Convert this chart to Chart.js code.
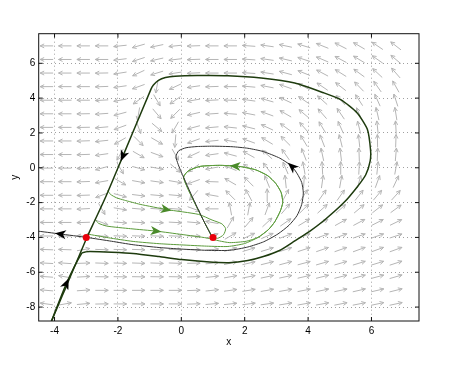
<!DOCTYPE html>
<html>
<head>
<meta charset="utf-8">
<script src="https://cdn.jsdelivr.net/npm/chart.js@4/dist/chart.umd.min.js"></script>
<style>
  body { margin: 0; background: #fff; }
</style>
</head>
<body>
<canvas id="chart" width="461" height="370"></canvas>
<script>
// axis ticks
var xTicks = [-4, -2, 0, 2, 4, 6];
var yTicks = [-8, -6, -4, -2, 0, 2, 4, 6];

// direction field grid (degrees, 0 = pointing right, 90 = up)
var fieldX = [-4.25, -3.67, -3.09, -2.51, -1.93, -1.35, -0.77, -0.19, 0.39, 0.97,
              1.55, 2.13, 2.71, 3.29, 3.87, 4.45, 5.03, 5.61, 6.19, 6.77];
var fieldY = [7.0, 6.22, 5.44, 4.66, 3.88, 3.1, 2.32, 1.54, 0.76, -0.02,
              -0.8, -1.58, -2.36, -3.14, -3.92, -4.7, -5.48, -6.26, -7.04, -7.82];
var fieldAngle = [
  [180,180,180,180,186,196,192,186,182,180, 180,176,172,168,163,158,153,150,146,142],
  [180,180,180,180,187,198,193,187,182,180, 180,176,172,167,162,157,152,149,145,140],
  [180,180,180,181,189,205,197,189,183,180, 180,176,171,165,158,152,148,144,137,131],
  [180,180,180,182,188,200,260,205,188,182, 180,175,169,161,152,146,142,134,125,119],
  [180,180,180,183,190,215,300,215,190,183, 178,172,164,155,146,138,133,123,114,108],
  [180,180,181,184,195,260,310,225,193,184, 176,169,160,150,140,131,124,113,103,99],
  [180,180,181,185,200,290,320,240,195,185, 174,166,155,144,131,121,114,104,96,93],
  [180,180,182,186,210,315,330,265,200,186, 170,160,149,135,121,111,104,96,91,88],
  [180,180,182,188,240,330,340,300,205,188, 165,151,139,125,111,102,97,92,88,85],
  [180,180,183,195,300,345,350,320,215,190, 158,144,128,113,100,93,90,87,84,80],
  [180,180,182,190,330,350,352,350,200,178, 150,135,112,96,86,82,80,75,70,65],
  [180,180,182,200,345,353,355,355,230,170, 135,118,90,62,58,55,55,52,50,48],
  [180,180,183,300,350,355,356,356,340,180, 100,80,70,50,45,42,42,40,38,36],
  [180,180,182,340,355,357,357,357,355,170, 60,50,43,35,31,30,29,28,27,26],
  [180,180,178,355,358,358,358,358,359,20, 30,25,24,21,20,20,20,19,19,18],
  [178,178,10,358,358,358,358,358,0,5, 16,17,17,18,18,19,19,20,20,20],
  [177,176,2,358,358,358,358,358,1,6, 12,13,14,15,15,16,16,17,17,18],
  [176,170,3,359,359,359,359,359,2,6, 10,11,12,12,13,14,14,15,15,16],
  [175,60,4,0,0,0,0,0,2,6, 8,9,10,10,11,12,12,13,13,14],
  [172,10,5,1,0,0,0,0,2,5, 6,7,8,9,10,10,11,11,12,12]
];

// trajectories
var bigOrbit = [[-4.14,-9.0],[-3.62,-6.62],[-3.14,-4.9],[-3.02,-4.83],[-2.88,-4.81],[-2.2,-4.85],
  [-1.52,-4.92],[-0.7,-5.1],[0.01,-5.27],[0.8,-5.4],[1.5,-5.45],[2.1,-5.33],[2.59,-5.1],
  [3.1,-4.75],[3.58,-4.2],[4.05,-3.65],[4.52,-3.0],[5.13,-2.0],[5.55,-1.1],[5.82,-0.4],
  [5.96,0.4],[5.97,1.05],[5.87,2.21],[5.55,3.15],[5.03,3.91],[4.5,4.3],[3.58,4.87],
  [2.52,5.16],[1.47,5.29],[0.5,5.3],[-0.2,5.26],[-0.5,5.18],[-0.72,5.02],[-0.88,4.75],
  [-0.96,4.5],[-1.85,0.64],[-2.38,-1.65],[-2.98,-4.0]];
var stableLower = [[-4.14,-9.0],[-2.98,-4.0]];
var unstableLeft = [[-2.98,-4.0],[-3.83,-3.8],[-4.6,-3.62]];
var unstableRight = [[-2.98,-4.0],[-2.2,-4.22],[-1.52,-4.42],[-0.7,-4.58],[0.01,-4.67],[0.8,-4.74],
  [1.53,-4.74],[2.1,-4.55],[2.6,-4.25],[3.05,-3.8],[3.4,-3.3],[3.65,-2.75],[3.8,-2.1],
  [3.85,-1.45],[3.8,-0.85],[3.66,-0.35],[3.48,0.1],[3.11,0.55],[2.59,0.93],[2.1,1.12],
  [1.6,1.21],[1.0,1.24],[0.5,1.22],[0.15,1.15],[-0.08,0.98],[-0.17,0.65],[-0.1,0.2],
  [0.0,-0.25],[0.38,-1.8],[0.72,-3.1],[0.98,-4.0]];
var greenA = [[-2.32,-1.3],[-2.24,-1.52],[-2.05,-1.72],[-1.8,-1.86],[-1.3,-2.1],[-0.46,-2.4],
  [0.55,-2.68],[0.97,-3.0],[1.28,-3.22],[1.4,-3.5],[1.33,-3.85],[1.15,-4.05],[0.98,-4.0]];
var greenB = [[-2.72,-2.95],[-2.62,-3.18],[-2.35,-3.35],[-1.6,-3.5],[-0.78,-3.64],[0.01,-3.83],
  [0.8,-4.03],[1.2,-4.2],[1.53,-4.3],[2.05,-4.22],[2.42,-4.0],[2.75,-3.55],[2.95,-3.1],
  [3.12,-2.5],[3.2,-2.0],[3.15,-1.42],[2.98,-0.9],[2.73,-0.46],[2.35,-0.12],[1.9,0.06],
  [1.68,0.1],[1.2,0.14],[0.6,0.08],[0.22,-0.18],[0.07,-0.55],[0.35,-1.75],[0.72,-3.1],[0.98,-4.0]];
var greenC = [[-2.98,-3.8],[-2.3,-4.02],[-1.52,-4.23],[-0.7,-4.36],[0.01,-4.43],[0.8,-4.5],
  [1.47,-4.52],[2.0,-4.35],[2.42,-4.0],[2.75,-3.55],[2.95,-3.1],[3.12,-2.5],[3.2,-2.0],
  [3.15,-1.42],[2.98,-0.9],[2.73,-0.46],[2.35,-0.12],[1.9,0.06],[1.68,0.1],[1.2,0.14],
  [0.6,0.08],[0.22,-0.18],[0.07,-0.55],[0.35,-1.75],[0.72,-3.1],[0.98,-4.0]];
var equilibria = [[-3, -4], [1, -4]];

var darkGreen = '#1e3b0e';
var green = '#5b9b3b';

function pts(arr) {
  return arr.map(function (p) { return {x: p[0], y: p[1]}; });
}
function curve(arr, color, width) {
  return {data: pts(arr), showLine: true, pointRadius: 0, borderColor: color,
          borderWidth: width, tension: 0.2, fill: false, clip: 0};
}

var datasets = [
  {data: pts(equilibria), showLine: false, pointRadius: 3.5, backgroundColor: '#e8000b',
   borderWidth: 0, pointHoverRadius: 3.5},
  curve(bigOrbit, darkGreen, 1.5),
  curve(stableLower, darkGreen, 1.5),
  curve(unstableLeft, '#333333', 1),
  curve(unstableRight, '#333333', 1),
  curve(greenA, green, 1),
  curve(greenB, green, 1),
  curve(greenC, green, 1)
];

// [dataset, point index, color]
var arrowMarks = [[1, 1, '#000'], [1, 35, '#000'], [3, 1, '#000'], [4, 16, '#000'],
                  [5, 5, '#4a8a2a'], [6, 4, '#4a8a2a'], [7, 18, '#4a8a2a']];

var phasePlugin = {
  id: 'phase',
  beforeDatasetsDraw: function (chart) {
    var ctx = chart.ctx, xs = chart.scales.x, ys = chart.scales.y, a = chart.chartArea;
    ctx.save();
    ctx.beginPath();
    ctx.rect(a.left, a.top, a.right - a.left, a.bottom - a.top);
    ctx.clip();
    ctx.strokeStyle = '#b5b5b5';
    ctx.lineWidth = 1;
    var L = 13, h = 4.5, w = 0.45;
    for (var r = 0; r < fieldY.length; r++) {
      for (var c = 0; c < fieldX.length; c++) {
        var px = xs.getPixelForValue(fieldX[c]);
        var py = ys.getPixelForValue(fieldY[r]);
        var t = fieldAngle[r][c] * Math.PI / 180;
        var dx = Math.cos(t), dy = -Math.sin(t);
        var x2 = px + dx * L / 2, y2 = py + dy * L / 2;
        var back = Math.atan2(-dy, -dx);
        ctx.beginPath();
        ctx.moveTo(px - dx * L / 2, py - dy * L / 2);
        ctx.lineTo(x2, y2);
        ctx.moveTo(x2 + h * Math.cos(back + w), y2 + h * Math.sin(back + w));
        ctx.lineTo(x2, y2);
        ctx.lineTo(x2 + h * Math.cos(back - w), y2 + h * Math.sin(back - w));
        ctx.stroke();
      }
    }
    ctx.restore();
  },
  afterDatasetsDraw: function (chart) {
    var ctx = chart.ctx;
    arrowMarks.forEach(function (m) {
      var d = chart.getDatasetMeta(m[0]).data;
      var p = d[m[1]], a = d[m[1] - 1], b = d[m[1] + 1];
      var ang = Math.atan2(b.y - a.y, b.x - a.x);
      ctx.save();
      ctx.translate(p.x, p.y);
      ctx.rotate(ang);
      ctx.beginPath();
      ctx.moveTo(5, 0);
      ctx.lineTo(-6, -4.5);
      ctx.lineTo(-3, 0);
      ctx.lineTo(-6, 4.5);
      ctx.closePath();
      ctx.fillStyle = m[2];
      ctx.fill();
      ctx.restore();
    });
  },
  afterDraw: function (chart) {
    var ctx = chart.ctx, a = chart.chartArea, xs = chart.scales.x, ys = chart.scales.y;
    ctx.save();
    ctx.strokeStyle = '#111';
    ctx.lineWidth = 1;
    ctx.strokeRect(a.left, a.top, a.right - a.left, a.bottom - a.top);
    ctx.beginPath();
    xTicks.forEach(function (v) {
      var px = xs.getPixelForValue(v);
      ctx.moveTo(px, a.bottom); ctx.lineTo(px, a.bottom - 4);
      ctx.moveTo(px, a.top); ctx.lineTo(px, a.top + 4);
    });
    yTicks.forEach(function (v) {
      var py = ys.getPixelForValue(v);
      ctx.moveTo(a.left, py); ctx.lineTo(a.left + 4, py);
      ctx.moveTo(a.right, py); ctx.lineTo(a.right - 4, py);
    });
    ctx.stroke();
    ctx.restore();
  }
};

var font = {family: 'Liberation Sans', size: 10};

new Chart(document.getElementById('chart'), {
  type: 'scatter',
  data: {datasets: datasets},
  plugins: [phasePlugin],
  options: {
    responsive: false,
    animation: false,
    events: [],
    layout: {padding: {top: 33.7, right: 42, bottom: 0, left: 0}},
    plugins: {legend: {display: false}, tooltip: {enabled: false}},
    scales: {
      x: {
        type: 'linear', min: -4.5, max: 7.5,
        afterBuildTicks: function (s) { s.ticks = xTicks.map(function (v) { return {value: v}; }); },
        afterFit: function (s) { s.height = 49; },
        grid: {color: '#a0a0a0', lineWidth: 1, drawTicks: false},
        border: {display: false, dash: [1, 3]},
        ticks: {padding: 4, color: '#000', font: font, maxRotation: 0, autoSkip: false},
        title: {display: true, text: 'x', color: '#000', font: font, padding: {top: 0, bottom: 22}}
      },
      y: {
        type: 'linear', min: -8.8, max: 7.7,
        afterBuildTicks: function (s) { s.ticks = yTicks.map(function (v) { return {value: v}; }); },
        afterFit: function (s) { s.width = 38.7; },
        grid: {color: '#a0a0a0', lineWidth: 1, drawTicks: false},
        border: {display: false, dash: [1, 3]},
        ticks: {padding: 3.5, color: '#000', font: font, autoSkip: false},
        title: {display: true, text: 'y', color: '#000', font: font, padding: {top: 9, bottom: 0}}
      }
    }
  }
});
</script>
</body>
</html>
